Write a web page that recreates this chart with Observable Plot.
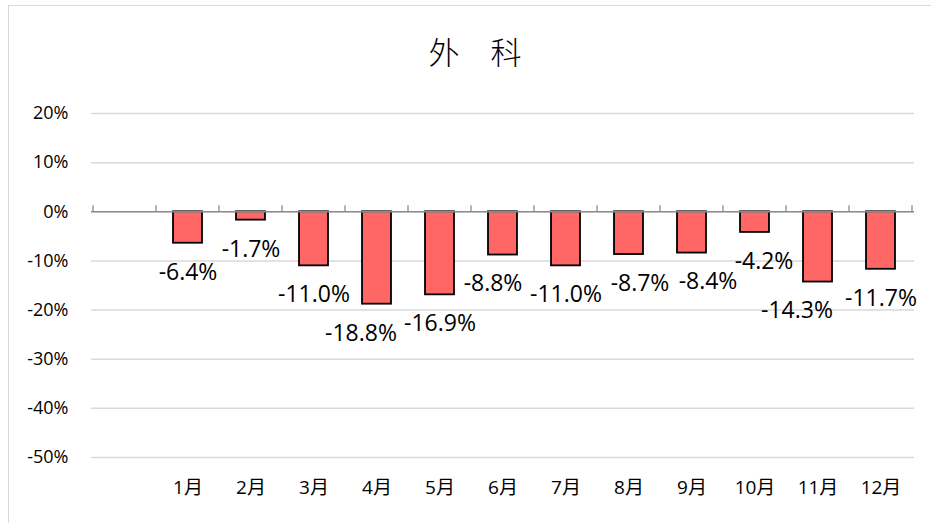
<!DOCTYPE html>
<html>
<head>
<meta charset="utf-8">
<script src="https://cdn.jsdelivr.net/npm/d3@7"></script>
<script src="https://cdn.jsdelivr.net/npm/@observablehq/plot@0.6"></script>
<style>
  html, body { margin: 0; padding: 0; background: #fff; overflow: hidden; }
  #wrap { position: relative; width: 931px; height: 523px; overflow: hidden; }
  #frame { position: absolute; left: 8px; top: 5px; width: 940px; height: 540px; border: 1.5px solid #d9d9d9; box-sizing: border-box; }
  #chart { position: absolute; left: 0; top: 0; }
</style>
</head>
<body>
<div id="wrap"><div id="frame"></div><div id="chart"></div></div>
<script>
const title = "外　科";
const categories = ["", "1月", "2月", "3月", "4月", "5月", "6月", "7月", "8月", "9月", "10月", "11月", "12月"];
const months = ["1月", "2月", "3月", "4月", "5月", "6月", "7月", "8月", "9月", "10月", "11月", "12月"];
const values = [-6.4, -1.7, -11.0, -18.8, -16.9, -8.8, -11.0, -8.7, -8.4, -4.2, -14.3, -11.7];
const yTicks = [-50, -40, -30, -20, -10, 0, 10, 20];
// manual horizontal nudges of the data labels (px), as placed in the reference
const labelShift = [0, 0, 0, -16, 0, -10, 0, 11, 16, 9, -21, 0];

const data = months.map((m, i) => ({month: m, value: values[i], shift: labelShift[i]}));
const font = "'Open Sans', 'Noto Sans CJK SC', sans-serif";

const boundaryTicks = (index, scales, values, dim) => {
  const x = scales.x, y = scales.y, bw = x.bandwidth();
  const g = d3.create("svg:g");
  const xs = categories.map(c => x(c)).concat([x(categories[categories.length - 1]) + bw]);
  for (const px of xs) {
    g.append("line").attr("x1", px).attr("x2", px)
      .attr("y1", y(0) - 6).attr("y2", y(0))
      .attr("stroke", "#8c8c8c").attr("stroke-width", 1.3);
  }
  return g.node();
};

const labelMarks = data.map(d => Plot.text([d], {
  x: "month", y: "value",
  text: r => r.value.toFixed(1) + "%",
  dy: 29, dx: d.shift,
  fontSize: 23, fill: "#000", fontFamily: font
}));

const chart = Plot.plot({
  width: 931,
  height: 523,
  marginLeft: 91,
  marginRight: 17,
  marginTop: 113,
  marginBottom: 66,
  style: {fontFamily: font, background: "transparent"},
  x: {domain: categories, padding: 0, label: null},
  y: {domain: [-50, 20], label: null},
  marks: [
    Plot.gridY(yTicks, {stroke: "#d9d9d9", strokeOpacity: 1, strokeWidth: 1.5}),
    Plot.axisY(yTicks, {tickSize: 0, tickPadding: 23, tickFormat: d => d + "%", fontSize: 18, fill: "#000", label: null}),
    Plot.axisX(months, {tickSize: 0, tickPadding: 23, fontSize: 19, fill: "#000", label: null}),
    Plot.barY(data, {x: "month", y: "value", fill: "#ff6666", stroke: "#000", strokeWidth: 1.8, insetLeft: 17, insetRight: 17}),
    Plot.ruleY([0], {stroke: "#8c8c8c", strokeWidth: 1.5}),
    boundaryTicks,
    ...labelMarks,
    Plot.text([title], {frameAnchor: "top", dx: -28, dy: -72, fontSize: 31, fill: "#000", fontFamily: "'Noto Sans CJK SC', sans-serif", fontWeight: 300})
  ]
});
document.getElementById("chart").appendChild(chart);
</script>
</body>
</html>
